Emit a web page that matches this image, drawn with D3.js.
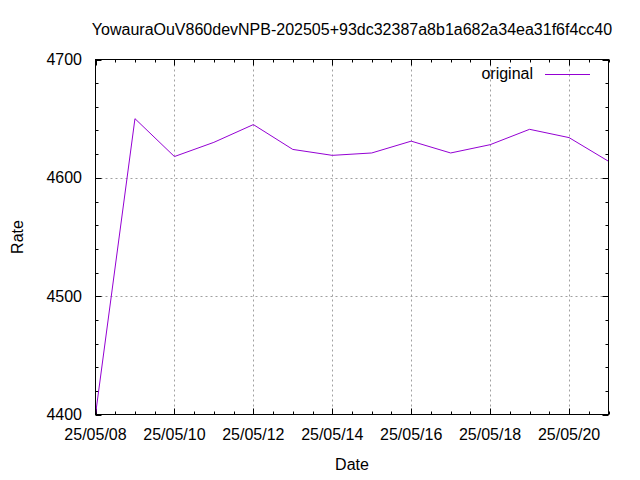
<!DOCTYPE html>
<html><head><meta charset="utf-8">
<script src="https://cdn.jsdelivr.net/npm/d3@7"></script>
<style>html,body{margin:0;padding:0;background:#fff;} svg{display:block;}</style>
</head><body>
<script>
const titleText = "YowauraOuV860devNPB-202505+93dc32387a8b1a682a34ea31f6f4cc40";
const dates = ["2025-05-08","2025-05-09","2025-05-10","2025-05-11","2025-05-12","2025-05-13","2025-05-14","2025-05-15","2025-05-16","2025-05-17","2025-05-18","2025-05-19","2025-05-20","2025-05-21"];
const rates = [4400, 4650, 4618, 4630, 4645, 4624, 4619, 4621, 4631, 4621, 4628, 4641, 4634, 4614];
const seriesName = "original";
const yTicks = [4400, 4500, 4600, 4700];
const xTickDates = ["2025-05-08","2025-05-10","2025-05-12","2025-05-14","2025-05-16","2025-05-18","2025-05-20"];

const W = 640, H = 480;
const L = 95.5, R = 608.5, T = 59.5, B = 414.5;
const font = "'Liberation Sans', Arial, sans-serif";
const parse = d3.utcParse("%Y-%m-%d");
const fmt = d3.utcFormat("%y/%m/%d");

const svg = d3.select("body").append("svg").attr("width", W).attr("height", H);
svg.append("rect").attr("width", W).attr("height", H).attr("fill", "#fff");

const x = d3.scaleUtc().domain([parse("2025-05-08"), parse("2025-05-21")]).range([L, R]);
const y = d3.scaleLinear().domain([4400, 4700]).range([B, T]);

// grid
const g = svg.append("g").attr("stroke", "#a0a0a0").attr("stroke-dasharray", "2,3").attr("stroke-width", 1);
xTickDates.slice(1).forEach(d => {
  const px = Math.round(x(parse(d))) + 0.5;
  g.append("line").attr("x1", px).attr("x2", px).attr("y1", T).attr("y2", B);
});
yTicks.slice(1, -1).forEach(v => {
  const py = Math.round(y(v)) + 0.5;
  g.append("line").attr("x1", L).attr("x2", R).attr("y1", py).attr("y2", py);
});

// ticks
const tk = svg.append("g").attr("stroke", "#000").attr("stroke-width", 1);
const yMinor = d3.range(4400, 4701, 20);
yMinor.forEach(v => {
  const major = v % 100 === 0;
  const len = major ? 6 : 3;
  const py = Math.round(y(v)) + 0.5;
  tk.append("line").attr("x1", L).attr("x2", L + len).attr("y1", py).attr("y2", py);
  tk.append("line").attr("x1", R).attr("x2", R - len).attr("y1", py).attr("y2", py);
});
const xMinor = d3.utcHour.every(12).range(parse("2025-05-08"), d3.utcHour.offset(parse("2025-05-21"), 1));
xMinor.forEach(d => {
  const major = xTickDates.includes(d3.utcFormat("%Y-%m-%d")(d)) && d.getUTCHours() === 0;
  const len = major ? 6 : 3;
  const px = Math.round(x(d)) + 0.5;
  tk.append("line").attr("x1", px).attr("x2", px).attr("y1", B).attr("y2", B - len);
  tk.append("line").attr("x1", px).attr("x2", px).attr("y1", T).attr("y2", T + len);
});

// line
svg.append("defs").append("clipPath").attr("id", "clip").append("rect")
  .attr("x", L).attr("y", T).attr("width", R - L).attr("height", B - T);
const data = dates.map((d, i) => ({ d: parse(d), v: rates[i] }));
svg.append("path").datum(data)
  .attr("clip-path", "url(#clip)")
  .attr("fill", "none").attr("stroke", "#9400d3").attr("stroke-width", 1)
  .attr("d", d3.line().x(p => x(p.d)).y(p => y(p.v)));

// border
svg.append("rect").attr("x", L).attr("y", T).attr("width", R - L).attr("height", B - T)
  .attr("fill", "none").attr("stroke", "#000").attr("stroke-width", 1);

// labels
const txt = svg.append("g").attr("font-family", font).attr("font-size", 16).attr("fill", "#000");
yTicks.forEach(v => {
  txt.append("text").attr("x", 82).attr("y", y(v) + 5.5).attr("text-anchor", "end").text(v);
});
xTickDates.forEach(d => {
  txt.append("text").attr("x", x(parse(d))).attr("y", 440).attr("text-anchor", "middle").text(fmt(parse(d)));
});
txt.append("text").attr("x", (L + R) / 2).attr("y", 35).attr("text-anchor", "middle").text(titleText);
txt.append("text").attr("x", (L + R) / 2).attr("y", 470).attr("text-anchor", "middle").text("Date");
txt.append("text").attr("transform", "translate(22.5,237) rotate(-90)").attr("text-anchor", "middle").text("Rate");

// legend
txt.append("text").attr("x", 533).attr("y", 79).attr("text-anchor", "end").text(seriesName);
svg.append("line").attr("x1", 545).attr("x2", 590).attr("y1", 74.5).attr("y2", 74.5)
  .attr("stroke", "#9400d3").attr("stroke-width", 1);
</script>
</body></html>
